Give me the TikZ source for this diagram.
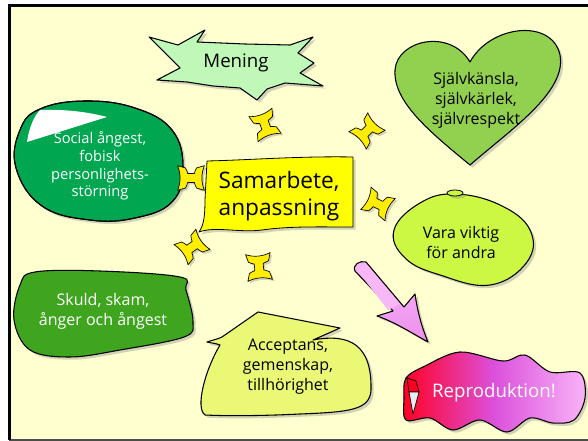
\documentclass[tikz,border=0pt]{standalone}
\usepackage{fontspec}
\setmainfont{Open Sans}
\usetikzlibrary{shadows}
\definecolor{cream}{HTML}{FFFFD0}
\definecolor{meningc}{HTML}{C0F8B8}
\definecolor{heartc}{HTML}{92D050}
\definecolor{socialc}{HTML}{00A650}
\definecolor{skuldc}{HTML}{3FA51F}
\definecolor{varac}{HTML}{CCF843}
\definecolor{accc}{HTML}{EAF876}
\definecolor{centc}{HTML}{FFFF00}
\definecolor{yarrc}{HTML}{FFEE00}
\definecolor{pinkc}{HTML}{F8B8F8}
\definecolor{magc}{HTML}{DC50DC}
\definecolor{redc}{HTML}{FF0020}
\definecolor{lpinkc}{HTML}{F8B4F8}
\begin{document}
\begin{tikzpicture}[x=0.75pt,y=-0.75pt,line join=round,
  blob/.style={draw=black,line width=0.8pt,drop shadow={shadow xshift=2pt,shadow yshift=-2pt,opacity=0.35}},
  yarr/.style={fill=yarrc,draw=black,line width=0.5pt,drop shadow={shadow xshift=1.5pt,shadow yshift=-1.5pt,opacity=0.35}},
  lbl/.style={align=center,inner sep=0pt,font=\fontsize{12}{15}\selectfont},
  yarrow/.pic={\path[yarr] (-11,-12) .. controls (-4,-9) and (4,-9) .. (11,-12) -- (9,-5) .. controls (7,-3.5) and (5,-3.5) .. (4,-3) -- (4,3) .. controls (5,3.5) and (7,3.5) .. (9,5) -- (11,12) .. controls (4,9) and (-4,9) .. (-11,12) -- (-9,5) .. controls (-7,3.5) and (-5,3.5) .. (-4,3) -- (-4,-3) .. controls (-5,-3.5) and (-7,-3.5) .. (-9,-5) -- cycle;}
]
\useasboundingbox (0,0) rectangle (588,441);
\fill[white] (0,0) rectangle (588,441);
\fill[cream] (9,5) rectangle (588,440);
\draw[black!70,line width=0.8pt] (9,440) -- (588,440);
\draw[black,line width=2.4pt] (8,5.5) -- (588,5.5);
\draw[black,line width=2.4pt] (9.5,4) -- (9.5,440);

% Mening
\path[blob,fill=meningc] (149,37) -- (178,45) -- (205,30) -- (197,42) -- (245,44) -- (290,45) -- (313,37) -- (298,53) -- (314,63) -- (300,73) -- (323,86) -- (285,83) -- (267,89) -- (257,100) -- (240,88) -- (213,86) -- (187,82) -- (157,80) -- (180,68) -- cycle;
\node[lbl,font=\fontsize{14}{17}\selectfont] (mening) at (236,63) {Mening};

% heart
\path[blob,fill=heartc] (470,165) .. controls (430,132) and (393,102) .. (395,70) .. controls (397,40) and (450,28) .. (470,62) .. controls (490,25) and (552,18) .. (560,55) .. controls (567,92) and (510,130) .. (470,165) -- cycle;
\node[lbl] (heart) at (476,100) {Självkänsla,\\självkärlek,\\självrespekt};

% Social angest
\path[blob,fill=socialc] plot[smooth cycle,tension=0.7] coordinates {(40,109) (85,101) (135,108) (172,130) (183,168) (172,202) (135,218) (90,220) (42,206) (16,168) (20,130)};
\fill[white] (27,142) .. controls (29,128) and (34,116) .. (40,110) .. controls (65,109) and (88,112) .. (107,117) -- cycle;
\draw[line width=0.8pt] plot[smooth cycle,tension=0.7] coordinates {(40,109) (85,101) (135,108) (172,130) (183,168) (172,202) (135,218) (90,220) (42,206) (16,168) (20,130)};
\node[lbl,text=white,font=\fontsize{11}{13.3}\selectfont] (social) at (100,166) {Social ångest,\\fobisk\\personlighets-\\störning};

% center
\path[blob,fill=centc,line width=0.6pt] (207,161) .. controls (250,160) and (300,156) .. (353,157) -- (353,227) .. controls (320,227) and (290,226) .. (262,230) .. controls (240,233) and (215,226) .. (199,232) .. controls (204,225) and (205,215) .. (205,200) -- cycle;
\node[lbl,font=\fontsize{17}{20}\selectfont] (center) at (279,196) {Samarbete,\\anpassning};

% Vara viktig
\path[blob,fill=varac] plot[smooth cycle,tension=0.7] coordinates {(420,203) (455,194) (500,205) (530,230) (527,262) (490,285) (440,275) (405,258) (394,230)};
\path[blob,fill=varac,line width=0.6pt] (455,193) ellipse [x radius=8,y radius=3];
\node[lbl] (vara) at (461,243) {Vara viktig\\för andra};

% Skuld
\path[blob,fill=skuldc] plot[smooth cycle,tension=0.6] coordinates {(35,272) (100,271) (180,277) (186,290) (193,322) (184,337) (120,350) (70,357) (30,350) (14,320) (20,285)};
\node[lbl,text=white] (skuld) at (103,311) {Skuld, skam,\\ånger och ångest};

% Acceptans
\path[blob,fill=accc] (207,342) .. controls (213,340) and (218,339) .. (222,337) -- (258,312) -- (340,328) -- (313,340) .. controls (350,333) and (372,345) .. (371,390) .. controls (370,410) and (350,412) .. (300,414) .. controls (260,416) and (225,416) .. (205,415) .. controls (195,408) and (205,370) .. (220,345) .. controls (215,343) and (210,343) .. (207,342) -- cycle;
\node[lbl] (acc) at (288,367) {Acceptans,\\gemenskap,\\tillhörighet};

% pink arrow
\path[blob,left color=pinkc,right color=pinkc!60!magc,shading angle=0] (355,271) .. controls (352,265) and (360,260) .. (366,262) -- (404,307) -- (415,294) .. controls (418,315) and (423,330) .. (428,342) .. controls (415,335) and (395,322) .. (377,316) -- (393,311) -- cycle;
\path[fill=pinkc] (357,270) -- (366,264) -- (400,304) -- (388,310) -- cycle;

% Reproduktion
\path[blob,left color=redc,right color=lpinkc,middle color=magc] plot[smooth cycle,tension=0.55] coordinates {(406,378) (425,366) (460,352) (503,361) (525,355) (550,372) (580,373) (585,398) (574,420) (553,423) (530,418) (507,432) (480,420) (453,430) (430,418) (406,420) (404,398)};
\path[fill=redc,draw=black,line width=0.5pt] (407,378) -- (416,381) -- (419,392) -- (409,392) -- cycle;
\path[fill=white!85!gray,draw=black,line width=0.5pt] (409,392) -- (419,392) -- (413,414) -- cycle;
\node[lbl,text=white,font=\fontsize{14}{17}\selectfont] (repro) at (494,393) {Reproduktion!};

% yellow double arrows
\pic[rotate=20,scale=1.12] at (265,125) {yarrow};
\pic[rotate=-45,scale=1.12] at (367,131) {yarrow};
\pic[rotate=90,scale=1.12] at (191,178) {yarrow};
\pic[rotate=65,scale=1.12] at (378,204) {yarrow};
\pic[rotate=-55,scale=1.12] at (192,247) {yarrow};
\pic[rotate=5,scale=1.12] at (259,267) {yarrow};
\end{tikzpicture}
\end{document}
